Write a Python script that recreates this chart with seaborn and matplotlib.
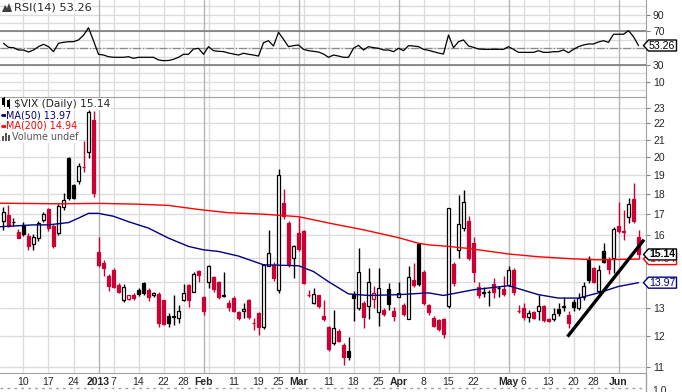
import matplotlib
matplotlib.use("Agg")
import matplotlib.pyplot as plt
from matplotlib.patches import Polygon, Rectangle
from matplotlib.lines import Line2D
from matplotlib.transforms import IdentityTransform
import pandas as pd
import seaborn as sns

W, H = 682, 392

# trading days, 0 = 2012-12-28
days = list(range(-17, 111))

opens = [16.67, 16.95, 16.60, 16.15, 16.45, 15.95, 15.59, 15.85, 16.70, 17.22,
         16.42, 16.10, 17.32, 19.91, 18.45, 18.66, 19.40, 20.30, 22.20, 15.26,
         14.79, 14.24, 14.50, 13.88, 13.30, 13.34, 13.50, 13.67, 13.94, 13.69,
         13.47, 13.54, 13.28, 12.70, 12.68, 12.64, 13.28, 13.88, 13.62, 14.44,
         13.40, 13.99, 14.19, 14.00, 13.48, 13.20, 13.37, 12.84, 12.87, 13.31,
         12.47, 12.81, 12.32, 14.67, 14.70, 13.69, 17.55, 16.58, 14.98, 16.08,
         16.19, 13.50, 13.18, 13.47, 12.69, 12.31, 11.75, 12.18, 11.71, 11.51,
         13.47, 13.01, 13.18, 13.07, 13.35, 12.84, 12.93, 13.72, 12.89, 13.43,
         13.11, 12.61, 14.08, 15.61, 14.42, 13.11, 12.64, 12.56, 12.60, 13.09,
         14.73, 15.34, 16.33, 16.67, 15.66, 13.78, 13.60, 13.62, 13.91, 13.76,
         13.73, 13.89, 14.50, 12.90, 13.01, 12.67, 12.85, 12.87, 13.08, 12.60,
         12.60, 12.97, 13.06, 12.75, 13.24, 13.01, 13.43, 14.95, 14.56, 13.66,
         15.29, 14.95, 14.98, 16.41, 16.15, 16.84, 17.73, 15.93]
highs = [17.35, 17.45, 16.78, 16.30, 16.60, 16.08, 16.05, 16.65, 17.10, 17.30,
         16.50, 17.50, 18.05, 19.98, 18.50, 19.67, 20.94, 22.85, 22.80, 15.90,
         14.90, 14.30, 14.55, 13.95, 13.90, 13.50, 13.55, 13.75, 13.98, 13.75,
         13.62, 13.60, 13.30, 12.80, 13.47, 13.10, 13.90, 13.92, 14.40, 14.50,
         13.45, 14.70, 14.25, 14.05, 14.40, 13.30, 13.45, 12.90, 13.18, 13.35,
         12.63, 12.85, 14.75, 16.24, 14.80, 19.30, 18.23, 16.65, 15.56, 16.86,
         16.25, 13.70, 13.76, 13.50, 13.31, 12.35, 12.93, 12.25, 11.76, 11.96,
         13.63, 15.41, 13.25, 14.56, 13.82, 14.56, 13.00, 13.95, 13.05, 14.01,
         13.20, 14.63, 14.77, 15.65, 14.50, 13.15, 12.70, 12.60, 12.65, 17.30,
         14.80, 17.93, 18.19, 16.90, 15.93, 14.01, 13.80, 13.70, 14.15, 13.82,
         14.23, 14.66, 14.55, 13.11, 13.18, 12.93, 12.90, 13.50, 13.12, 12.64,
         12.99, 13.18, 13.43, 12.90, 13.33, 13.57, 14.01, 15.07, 14.60, 14.70,
         15.62, 15.05, 16.38, 17.60, 17.19, 17.77, 18.55, 16.24]
lows = [16.23, 16.35, 16.40, 15.85, 15.95, 15.35, 15.33, 15.75, 16.60, 16.20,
        15.44, 16.00, 17.20, 17.70, 17.75, 18.50, 19.17, 19.95, 17.85, 14.60,
        14.23, 13.65, 13.75, 13.55, 13.22, 13.30, 13.30, 13.45, 13.50, 13.25,
        13.42, 12.30, 12.40, 12.30, 12.39, 12.45, 13.25, 13.03, 13.60, 14.00,
        12.75, 13.75, 13.60, 13.35, 13.40, 12.90, 12.85, 12.55, 12.65, 12.60,
        12.22, 12.04, 12.25, 14.65, 14.05, 13.57, 16.74, 14.60, 14.15, 15.30,
        13.90, 13.40, 13.15, 13.00, 12.51, 11.50, 11.70, 11.80, 11.05, 11.20,
        12.54, 12.93, 12.28, 12.61, 12.99, 12.36, 12.70, 12.93, 12.51, 13.40,
        12.70, 12.58, 13.81, 13.85, 13.10, 12.75, 12.30, 12.18, 11.94, 13.00,
        13.85, 14.98, 16.20, 14.90, 14.01, 13.37, 13.42, 13.08, 13.37, 13.40,
        13.44, 13.82, 13.50, 12.81, 12.57, 12.48, 12.60, 12.56, 12.50, 12.48,
        12.54, 12.69, 12.87, 12.26, 12.89, 12.93, 13.31, 13.95, 13.95, 13.56,
        14.78, 14.30, 14.36, 16.08, 15.78, 16.56, 16.56, 14.95]
closes = [17.10, 16.43, 16.62, 15.88, 16.03, 15.50, 15.93, 16.55, 16.98, 16.31,
          15.51, 17.38, 17.68, 17.77, 17.80, 19.48, 19.42, 22.72, 18.02, 14.68,
          14.56, 13.83, 13.79, 13.62, 13.79, 13.49, 13.36, 13.52, 13.55, 13.42,
          13.57, 12.46, 12.43, 12.46, 12.69, 12.89, 13.57, 13.31, 14.32, 14.28,
          12.90, 14.67, 13.72, 13.41, 13.46, 13.02, 12.89, 12.63, 12.95, 12.66,
          12.46, 12.31, 14.68, 15.22, 14.17, 18.99, 16.87, 14.73, 15.51, 15.36,
          13.97, 13.48, 13.53, 13.06, 12.59, 11.56, 12.27, 11.83, 11.30, 11.31,
          13.37, 14.39, 12.67, 13.99, 13.57, 13.74, 12.77, 13.15, 12.70, 13.58,
          12.78, 14.21, 13.89, 13.92, 13.19, 12.84, 12.36, 12.24, 12.06, 17.27,
          13.96, 16.51, 17.56, 14.97, 14.39, 13.48, 13.58, 13.60, 13.59, 13.74,
          13.52, 14.48, 13.59, 12.88, 12.66, 12.81, 12.65, 13.09, 12.55, 12.53,
          12.78, 12.81, 13.04, 12.45, 13.02, 13.37, 13.82, 14.07, 13.99, 14.48,
          14.83, 14.53, 16.30, 16.20, 16.18, 17.50, 16.63, 15.14]

rsi = [55.9, 51.1, 50.7, 47.9, 47.9, 45.5, 47.9, 51.9, 54.7, 51.9,
       45.9, 55.9, 57.1, 57.8, 57.9, 59.9, 65.5, 74.5, 59.0, 42.8,
       41.9, 39.9, 39.2, 39.2, 39.2, 39.9, 38.0, 39.2, 39.2, 39.2,
       39.2, 36.0, 35.2, 35.4, 36.8, 39.2, 42.8, 42.8, 49.1, 49.9,
       42.8, 51.9, 47.1, 46.3, 46.0, 44.3, 43.1, 41.9, 44.0, 42.8,
       41.9, 40.7, 56.6, 59.0, 52.7, 69.0, 60.7, 51.9, 53.1, 53.9,
       48.7, 47.1, 46.3, 45.5, 43.1, 39.2, 41.9, 40.7, 39.2, 39.2,
       50.0, 53.5, 47.9, 51.9, 50.7, 50.0, 47.9, 47.9, 45.9, 50.0,
       47.1, 53.1, 52.7, 51.9, 48.7, 47.5, 45.9, 44.3, 43.1, 65.8,
       50.7, 57.8, 59.9, 52.7, 51.1, 49.1, 48.7, 48.7, 48.7, 48.7,
       48.7, 51.9, 48.7, 45.1, 45.1, 45.1, 45.1, 47.1, 45.1, 45.1,
       45.9, 45.9, 48.0, 44.7, 48.7, 51.9, 53.9, 55.1, 55.1, 57.5,
       59.0, 57.1, 66.7, 66.7, 66.7, 71.0, 63.8, 53.26]

ma50_days = [-18, -11, -8, -4, -2, 0, 2, 5, 8, 12, 16, 20, 23, 26, 30, 35, 42,
             45, 48, 52, 56, 62, 68, 71, 77, 84, 90, 94, 98, 102, 106, 110]
ma50_vals = [16.38, 16.47, 16.47, 16.58, 16.79, 17.02, 17.02, 16.88, 16.62, 16.32,
             15.86, 15.49, 15.34, 15.27, 15.07, 14.70, 14.66, 14.42, 14.01, 13.53,
             13.47, 13.50, 13.57, 13.47, 13.69, 13.85, 13.50, 13.37, 13.37, 13.57,
             13.82, 13.97]
ma200_days = [-18, -6, 2, 10, 16, 22, 28, 35, 42, 45, 48, 55, 62, 66, 68, 72,
              76, 84, 90, 97, 102, 110]
ma200_vals = [17.52, 17.49, 17.51, 17.47, 17.41, 17.21, 17.05, 16.98, 16.86, 16.71,
              16.56, 16.24, 15.88, 15.63, 15.56, 15.49, 15.40, 15.16, 15.04, 14.95,
              14.91, 14.94]

trend_days = [95.8, 111.1]
trend_vals = [11.98, 15.79]

tick_days = [-13, -8, -3, 2, 5, 10, 15, 19, 23, 29, 34, 38, 42, 48, 53, 58,
             62, 67, 72, 77, 84, 87, 92, 97, 101, 106]
tick_labels = ["10", "17", "24", "2013", "7", "14", "22", "28", "Feb", "11", "19",
               "25", "Mar", "11", "18", "25", "Apr", "8", "15", "22", "May", "6",
               "13", "20", "28", "Jun"]
bold_labels = ["2013", "Feb", "Mar", "Apr", "May", "Jun"]
week_days = [-13, -8, -3, 5, 10, 15, 19, 24, 29, 34, 38, 43, 48, 53, 58, 67,
             72, 77, 87, 92, 97, 101]
month_days = [2, 23, 42, 62, 84, 106]

price_ticks = list(range(11, 24))
price_labels = ["" if v in (14, 15) else str(v) for v in price_ticks]
rsi_ticks = [10, 30, 50, 70, 90]
rsi_labels = ["10", "30", "", "70", "90"]

RED = "#CC0033"
NAVY = "#000080"

sns.set_style("white")
plt.rcParams["font.family"] = ["Liberation Sans", "DejaVu Sans"]

df = pd.DataFrame({"day": days, "open": opens, "high": highs,
                   "low": lows, "close": closes})
prev = df["close"].shift(1).fillna(df["close"])
df["color"] = [RED if c < p else "black" for c, p in zip(df["close"], prev)]
df["hollow"] = df["close"] > df["open"]
df["lo"] = df[["open", "close"]].min(axis=1)
df["hi"] = df[["open", "close"]].max(axis=1)

fig = plt.figure(figsize=(W / 100, H / 100), dpi=100)
ax_rsi = fig.add_axes([0, 295 / H, 646 / W, 97 / H])
ax = fig.add_axes([0, 19 / H, 646 / W, 276 / H], sharex=ax_rsi)

# ---- RSI panel
ax_rsi.set_ylim(-8.2, 107.6)
for lvl in range(0, 101, 10):
    ax_rsi.axhline(lvl, color="#dcdcdc", lw=1, zorder=0)
for d in week_days:
    ax_rsi.axvline(d, color="#dcdcdc", lw=1, zorder=0)
for d in month_days:
    ax_rsi.axvline(d, color="#b4b4b4", lw=1, zorder=0)
ax_rsi.axhline(70, color="#7a7a7a", lw=1.2, zorder=1)
ax_rsi.axhline(30, color="#7a7a7a", lw=1.2, zorder=1)
ax_rsi.axhline(50, color="#8a8a8a", lw=0.9, ls="-.", zorder=1)
sns.lineplot(x=days, y=rsi, ax=ax_rsi, color="black", lw=0.9, zorder=3)
ax_rsi.yaxis.tick_right()
ax_rsi.set_yticks(rsi_ticks)
ax_rsi.set_yticklabels(rsi_labels)
ax_rsi.tick_params(axis="y", length=3, color="#808080", labelsize=7.5, pad=2)
ax_rsi.tick_params(axis="x", bottom=False, labelbottom=False)
ax_rsi.set_ylabel("")
for s in ["left", "top", "bottom"]:
    ax_rsi.spines[s].set_visible(False)
ax_rsi.spines["right"].set_color("#a0a0a0")

# ---- price panel
ax.set_yscale("log")
ax.set_ylim(10.80, 23.71)
ax.set_xlim(-17.7, 111.5)
for lvl in price_ticks:
    ax.axhline(lvl, color="#dcdcdc", lw=1, zorder=0)
for d in week_days:
    ax.axvline(d, color="#dcdcdc", lw=1, zorder=0)
for d in month_days:
    ax.axvline(d, color="#b4b4b4", lw=1, zorder=0)

ax.vlines(df["day"], df["low"], df["high"], colors=df["color"], lw=1, zorder=3)
ax.bar(df["day"], (df["hi"] - df["lo"]).clip(lower=0.005), bottom=df["lo"], width=0.76,
       color=["white" if h else c for h, c in zip(df["hollow"], df["color"])],
       edgecolor=df["color"], linewidth=0.9, zorder=4)

sns.lineplot(x=ma200_days, y=ma200_vals, ax=ax, color="red", lw=1, zorder=5)
sns.lineplot(x=ma50_days, y=ma50_vals, ax=ax, color=NAVY, lw=1, zorder=5)
ax.plot(trend_days, trend_vals, color="black", lw=2.4, solid_capstyle="butt", zorder=6)

ax.yaxis.tick_right()
ax.set_yticks(price_ticks)
ax.set_yticklabels(price_labels)
ax.yaxis.set_minor_locator(matplotlib.ticker.NullLocator())
ax.tick_params(axis="y", length=3, color="#808080", labelsize=7.5, pad=2)
ax.set_xticks(tick_days)
ax.set_xticklabels(tick_labels)
for lab in ax.get_xticklabels():
    if lab.get_text() in bold_labels:
        lab.set_fontweight("bold")
ax.set_xticks(days, minor=True)
ax.tick_params(axis="x", which="major", length=0, labelsize=7.5, pad=3)
ax.tick_params(axis="x", which="minor", length=2, color="#a0a0a0", direction="in")
ax.set_ylabel("")
ax.spines["left"].set_visible(False)
for s in ["top", "right", "bottom"]:
    ax.spines[s].set_color("#a0a0a0")


def fx(x):
    return x / W


def fy(y):
    return 1 - y / H


# legends / labels (pixel layout)
bg = dict(facecolor="white", edgecolor="none", pad=0.5)
fig.add_artist(Polygon([(fx(2), fy(12)), (fx(5), fy(5)), (fx(7), fy(8)),
                        (fx(9), fy(3)), (fx(12), fy(12))],
                       closed=True, fc="#404040", ec="none", zorder=4))
fig.text(fx(14), fy(7), "RSI(14) 53.26", fontsize=8.2, family="DejaVu Sans",
         va="center", ha="left", bbox=bg, zorder=4)
fig.text(fx(13.5), fy(104), "$VIX (Daily) 15.14", fontsize=7.7, family="DejaVu Sans",
         va="center", ha="left", bbox=bg, zorder=4)
fig.text(fx(6.5), fy(115), "MA(50) 13.97", fontsize=6.9, family="DejaVu Sans",
         color=NAVY, va="center", ha="left", bbox=bg, zorder=4)
fig.text(fx(6.5), fy(126), "MA(200) 14.94", fontsize=6.9, family="DejaVu Sans",
         color="red", va="center", ha="left", bbox=bg, zorder=4)
fig.text(fx(12), fy(137), "Volume undef", fontsize=6.9, family="DejaVu Sans",
         color="#555555", va="center", ha="left", bbox=bg, zorder=4)
fig.add_artist(Rectangle((fx(1), fy(98)), fx(11) - fx(1), fy(142) - fy(98),
                         fc="white", ec="none", zorder=3.5))
for x0, y0, y1 in [(2, 98, 105), (7, 100, 107)]:
    fig.add_artist(Line2D([fx(x0 + 1.5), fx(x0 + 1.5)], [fy(y0 - 1), fy(y1 + 1)],
                          color="black", lw=0.8, zorder=4))
    fig.add_artist(Rectangle((fx(x0), fy(y1)), fx(3) - fx(0), fy(y0) - fy(y1),
                             fc="black", ec="none", zorder=4))
fig.add_artist(Line2D([fx(1.5), fx(6)], [fy(115), fy(115)], color=NAVY, lw=2, zorder=4))
fig.add_artist(Line2D([fx(1.5), fx(6)], [fy(126), fy(126)], color="red", lw=2, zorder=4))
for k, hgt in enumerate([5, 8, 6]):
    fig.add_artist(Rectangle((fx(2 + 3 * k), fy(141)), fx(2) - fx(0), hgt / H,
                             fc="#555555", ec="none", zorder=4))

# value tags on the right axis
fig.canvas.draw()


def value_tag(axis, val, txt, edge, tcolor, weight="normal", z=5):
    yd = axis.transData.transform((0, val))[1]
    x0, x1, h = 643.5, 676.5, 5.5
    pts = [(x0, yd), (x0 + 5, yd + h), (x1, yd + h), (x1, yd - h), (x0 + 5, yd - h)]
    fig.add_artist(Polygon(pts, closed=True, fc="white", ec=edge, lw=1,
                           transform=IdentityTransform(), zorder=z))
    fig.text(649, yd, txt, transform=IdentityTransform(), fontsize=7.6,
             color=tcolor, fontweight=weight, va="center", ha="left", zorder=z + 0.1)


value_tag(ax_rsi, 53.26, "53.26", "black", "black")
value_tag(ax, 14.94, "14.94", "red", "red", z=5)
value_tag(ax, 15.14, "15.14", "black", "black", weight="bold", z=6)
value_tag(ax, 13.97, "13.97", NAVY, NAVY, z=5)

# partial volume panel edge at the bottom
fig.add_artist(Line2D([0, fx(646)], [fy(388), fy(388)], color="#a0a0a0", lw=1,
                      ls=(0, (2, 3)), zorder=2))
fig.add_artist(Line2D([fx(646), fx(646)], [fy(373), 0], color="#a0a0a0", lw=1, zorder=2))
fig.text(fx(652), fy(391), "1.0", fontsize=7.5, va="center", ha="left")

fig.savefig("out.png", dpi=100)
